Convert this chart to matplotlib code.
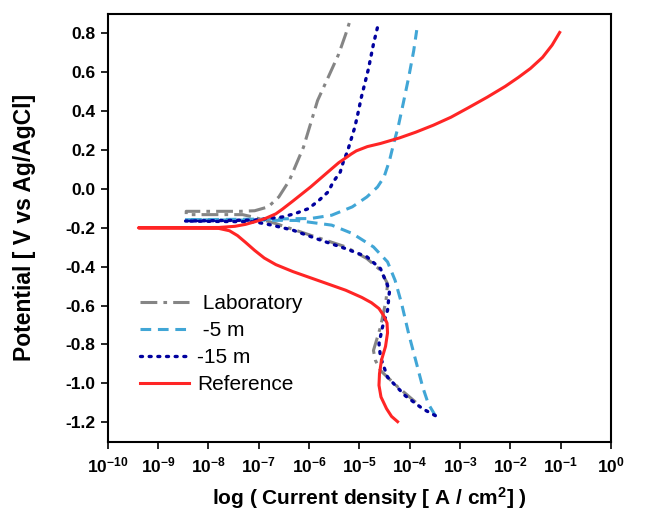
import math
import matplotlib
matplotlib.use("Agg")
import matplotlib.pyplot as plt
from matplotlib.ticker import FixedLocator, FuncFormatter

plt.rcParams['font.family'] = ['Liberation Sans', 'DejaVu Sans']
plt.rcParams['mathtext.fontset'] = 'custom'
plt.rcParams['mathtext.rm'] = 'Liberation Sans:bold'
plt.rcParams['mathtext.bf'] = 'Liberation Sans:bold'
plt.rcParams['mathtext.it'] = 'Liberation Sans:bold'

# ---- data (log10 of current density [A/cm2], potential [V]) ----
lab_logi = [-3.88, -4.23, -4.58, -4.68, -4.72, -4.58, -4.47, -4.44, -4.58, -4.85, -5.27,
            -5.97, -6.66, -7.10, -7.32, -8.44, -8.44, -7.37, -7.08, -6.81, -6.60, -6.39,
            -6.25, -6.11, -5.97, -5.83, -5.62, -5.41, -5.27, -5.19]
lab_E = [-1.097, -1.020, -0.934, -0.882, -0.831, -0.710, -0.573, -0.487, -0.418, -0.358, -0.298,
         -0.238, -0.178, -0.145, -0.132, -0.132, -0.115, -0.115, -0.112, -0.092, -0.041, 0.044,
         0.130, 0.215, 0.335, 0.455, 0.574, 0.694, 0.797, 0.862]

m5_logi = [-3.49, -3.63, -3.74, -3.88, -4.02, -4.16, -4.29, -4.44, -4.72, -5.14, -5.55,
           -6.25, -7.37, -8.47, -7.37, -5.97, -5.55, -5.14, -4.85, -4.64, -4.51, -4.40,
           -4.32, -4.23, -4.13, -4.02, -3.92, -3.86]
m5_E = [-1.166, -1.105, -1.020, -0.882, -0.745, -0.590, -0.470, -0.375, -0.298, -0.229, -0.186,
        -0.162, -0.160, -0.158, -0.156, -0.152, -0.135, -0.092, -0.041, 0.010, 0.061, 0.147,
        0.232, 0.318, 0.438, 0.574, 0.711, 0.817]

m15_logi = [-3.49, -3.74, -4.09, -4.44, -4.58, -4.61, -4.54, -4.44, -4.40, -4.58, -4.85,
            -5.27, -5.76, -6.32, -6.74, -7.08, -8.47, -7.08, -6.81, -6.53, -6.28, -6.01,
            -5.80, -5.62, -5.52, -5.38, -5.31, -5.24, -5.17, -5.09, -5.03, -4.96, -4.82,
            -4.72, -4.64]
m15_E = [-1.166, -1.131, -1.063, -0.968, -0.865, -0.796, -0.710, -0.624, -0.521, -0.410, -0.349,
         -0.307, -0.264, -0.212, -0.186, -0.169, -0.165, -0.160, -0.152, -0.144, -0.127, -0.101,
         -0.058, -0.015, 0.036, 0.087, 0.147, 0.190, 0.250, 0.318, 0.386, 0.472, 0.617,
         0.745, 0.831]

ref_logi = [-4.24, -4.36, -4.46, -4.57, -4.61, -4.60, -4.56, -4.48, -4.44, -4.45, -4.52,
            -4.61, -4.76, -4.95, -5.27, -5.63, -5.97, -6.32, -6.66, -6.89, -7.08, -7.26,
            -7.42, -7.58, -7.79, -9.39, -7.79, -7.47, -7.26, -7.08, -6.87, -6.66, -6.53,
            -6.32, -5.97, -5.55, -5.41, -5.27, -5.16, -5.06, -4.84, -4.58, -4.21, -3.88,
            -3.53, -3.18, -2.84, -2.46, -2.10, -1.84, -1.60, -1.36, -1.17, -1.02]
ref_E = [-1.197, -1.170, -1.130, -1.070, -1.010, -0.950, -0.880, -0.810, -0.740, -0.690, -0.650,
         -0.615, -0.585, -0.558, -0.521, -0.488, -0.457, -0.425, -0.389, -0.355, -0.316, -0.275,
         -0.240, -0.215, -0.203, -0.200, -0.198, -0.192, -0.182, -0.169, -0.152, -0.128, -0.104,
         -0.062, 0.010, 0.104, 0.135, 0.160, 0.180, 0.196, 0.218, 0.234, 0.262, 0.292,
         0.328, 0.369, 0.417, 0.472, 0.528, 0.574, 0.620, 0.677, 0.740, 0.805]

labels = [' Laboratory', ' -5 m', '-15 m', 'Reference']
yticks = [-1.2, -1.0, -0.8, -0.6, -0.4, -0.2, 0.0, 0.2, 0.4, 0.6, 0.8]
xtick_exp = list(range(-10, 1))

fig = plt.figure(figsize=(6.51, 5.16), dpi=100)
L, R, T, B = 107.7, 611.0, 14.0, 441.7
ax = fig.add_axes([L / 651, 1 - B / 516, (R - L) / 651, (B - T) / 516])

def to_i(lst):
    return [10.0 ** v for v in lst]

ax.plot(to_i(lab_logi), lab_E, color='#858585', lw=2.2, linestyle=(0, (5.5, 2, 1.2, 2)),
        label=labels[0])
ax.plot(to_i(m5_logi), m5_E, color='#41a6d6', lw=2.2, linestyle=(0, (3.5, 2.2)),
        label=labels[1])
ax.plot(to_i(m15_logi), m15_E, color='#00009e', lw=2.4, linestyle=(0, (0.6, 2.0)),
        dash_capstyle='round', label=labels[2])
ax.plot(to_i(ref_logi), ref_E, color='#ff2525', lw=2.2, label=labels[3])

ax.set_xscale('log')
ax.set_xlim(1e-10, 1e0)
ax.set_ylim(-1.3, 0.9)
ax.xaxis.set_major_locator(FixedLocator([10.0 ** e for e in xtick_exp]))
ax.xaxis.set_minor_locator(FixedLocator([]))
ax.xaxis.set_major_formatter(FuncFormatter(lambda v, p: r'$\mathbf{10^{%d}}$' % round(math.log10(v))))
ax.yaxis.set_major_locator(FixedLocator(yticks))
ax.set_yticklabels(['%.1f' % v for v in yticks])

ax.tick_params(axis='both', direction='out', length=5, width=1.2, top=False, right=False)
ax.tick_params(axis='y', labelsize=12.5, pad=4)
ax.tick_params(axis='x', labelsize=12.5, pad=5)
for lab in ax.get_yticklabels():
    lab.set_fontweight('bold')
for s in ax.spines.values():
    s.set_linewidth(1.5)

ax.set_xlabel('log ( Current density [ A / cm$^{\\mathbf{2}}$] )', fontsize=15,
              fontweight='bold', labelpad=5)
ax.xaxis.set_label_coords(0.52, -0.101)
ax.set_ylabel('Potential [ V vs Ag/AgCl]', fontsize=16.5, fontweight='bold', labelpad=21)

leg = ax.legend(loc='lower left', bbox_to_anchor=(0.064, 0.112), frameon=False, fontsize=15,
                handlelength=2.35, handletextpad=0.4, labelspacing=0.38, borderaxespad=0.0,
                borderpad=0.0)

fig.savefig('out.png', dpi=100)
